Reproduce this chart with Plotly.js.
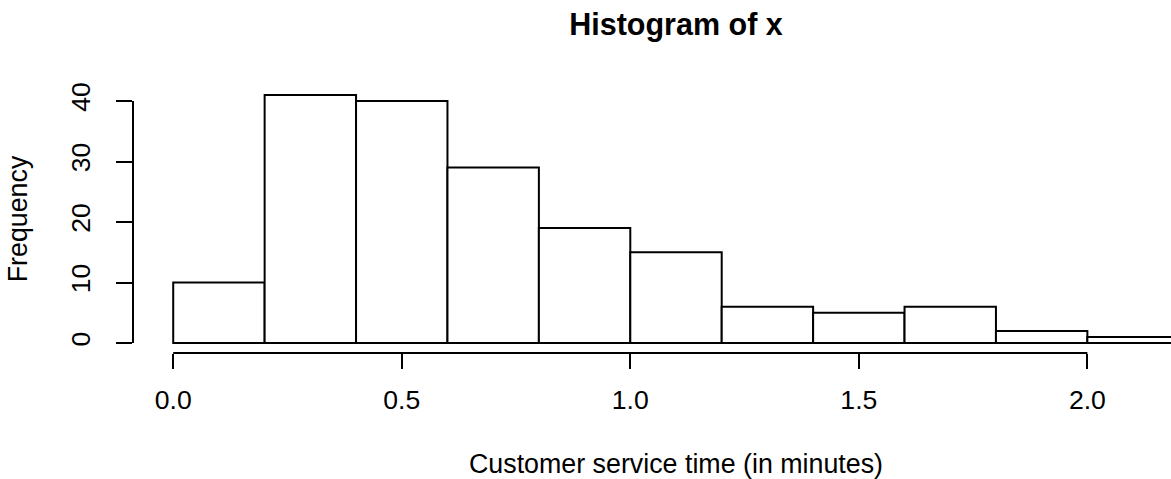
<!DOCTYPE html>
<html>
<head>
<meta charset="utf-8">
<script src="https://cdn.plot.ly/plotly-3.0.1.min.js"></script>
<style>
  html, body { margin: 0; padding: 0; overflow: hidden; background: #fff; }
  #chart { width: 1240px; height: 479px; }
</style>
</head>
<body>
<div id="chart"></div>
<script>
// Histogram data
const breaks = [0.0, 0.2, 0.4, 0.6, 0.8, 1.0, 1.2, 1.4, 1.6, 1.8, 2.0, 2.2];
const counts = [10, 41, 40, 29, 19, 15, 6, 5, 6, 2, 1];
const xTickVals = [0.0, 0.5, 1.0, 1.5, 2.0];
const xTickText = ["0.0", "0.5", "1.0", "1.5", "2.0"];
const yTickVals = [0, 10, 20, 30, 40];
const yTickText = ["0", "10", "20", "30", "40"];
const titleText = "Histogram of x";
const xTitle = "Customer service time (in minutes)";
const yTitle = "Frequency";

const lefts = breaks.slice(0, -1);
const widths = lefts.map((b, i) => breaks[i + 1] - b);

const xMin = breaks[0], xMax = breaks[breaks.length - 1];
const xPad = 0.04 * (xMax - xMin);
const yMax = Math.max(...counts);
const yPad = 0.04 * yMax;

const FONT = "Liberation Sans, Arial, Helvetica, sans-serif";

const trace = {
  type: "bar",
  x: lefts,
  y: counts,
  width: widths,
  offset: 0,
  marker: { color: "#ffffff", line: { color: "#000000", width: 2 } },
  hoverinfo: "x+y",
  showlegend: false
};

const layout = {
  width: 1240,
  height: 479,
  paper_bgcolor: "#ffffff",
  plot_bgcolor: "#ffffff",
  margin: { l: 133, r: 21, t: 85, b: 126, pad: 0 },
  font: { family: FONT, size: 26.6, color: "#000000" },
  title: {
    text: "<b>" + titleText + "</b>",
    font: { family: FONT, size: 30.5, color: "#000000" },
    x: 0.5, xref: "paper",
    y: 1 - 24 / 479, yref: "container", yanchor: "middle"
  },
  bargap: 0,
  xaxis: {
    range: [xMin - xPad, xMax + xPad],
    tickvals: xTickVals,
    ticktext: xTickText,
    ticks: "outside",
    ticklen: 15,
    tickwidth: 2,
    tickcolor: "#000000",
    showgrid: false,
    zeroline: false,
    showline: false,
    tickfont: { family: FONT, size: 26.6 },
    ticklabelstandoff: 8,
    title: { text: xTitle, font: { family: FONT, size: 26.8 }, standoff: 40 },
    automargin: false,
    fixedrange: true
  },
  yaxis: {
    range: [-yPad, yMax + yPad],
    tickvals: yTickVals,
    ticktext: yTickText,
    tickangle: -90,
    ticks: "outside",
    ticklen: 16,
    tickwidth: 2,
    tickcolor: "#000000",
    showgrid: false,
    zeroline: false,
    showline: false,
    tickfont: { family: FONT, size: 26.6 },
    ticklabelstandoff: 15,
    title: { text: yTitle, font: { family: FONT, size: 26.8 }, standoff: 30 },
    automargin: false,
    fixedrange: true
  },
  shapes: [
    { type: "line", xref: "x", yref: "paper",
      x0: xTickVals[0], x1: xTickVals[xTickVals.length - 1], y0: 0, y1: 0,
      line: { color: "#000000", width: 2 } },
    { type: "line", xref: "paper", yref: "y",
      x0: 0, x1: 0, y0: yTickVals[0], y1: yTickVals[yTickVals.length - 1],
      line: { color: "#000000", width: 2 } }
  ]
};

Plotly.newPlot("chart", [trace], layout, { displayModeBar: false, staticPlot: true });
</script>
</body>
</html>
